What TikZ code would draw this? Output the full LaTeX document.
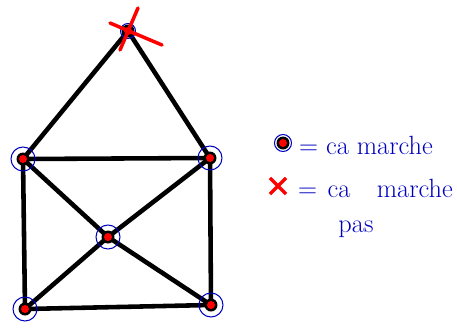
\documentclass[tikz,border=0pt]{standalone}
\usepackage{tikz}
\usetikzlibrary{backgrounds, shapes.misc}

\begin{document}
\begin{tikzpicture}[
x=0.02cm, y=-0.02cm,
edge/.style={line width=2.6pt, line cap=round},
ok/.style={circle, draw=blue!75!black, semithick, minimum size=0.48cm, inner sep=0pt,
  path picture={\fill[black] (path picture bounding box.center) circle (0.13cm);
                \fill[red] (path picture bounding box.center) circle (0.08cm);}},
ko/.style={red, line width=2pt, line cap=round},
legend/.style={text=blue!75!black, font=\fontsize{15}{17}\selectfont, anchor=west}
]
\useasboundingbox (0,0) rectangle (457,329);

% house
\node[ok, minimum size=0.3cm] (top) at (128,31) {};
\node[ok] (lu) at (23,159) {};
\node[ok] (ru) at (210,158) {};
\node[ok] (mid) at (108,237) {};
\node[ok] (lb) at (25,309) {};
\node[ok] (rb) at (211,305) {};

\begin{scope}[on background layer]
\draw[edge] (top.center) -- (lu.center);
\draw[edge] (top.center) -- (ru.center);
\draw[edge] (lu.center) -- (ru.center);
\draw[edge] (lu.center) -- (lb.center);
\draw[edge] (ru.center) -- (rb.center);
\draw[edge] (lb.center) -- (rb.center);
\draw[edge] (lu.center) -- (mid.center);
\draw[edge] (mid.center) -- (rb.center);
\draw[edge] (ru.center) -- (mid.center);
\draw[edge] (mid.center) -- (lb.center);
\end{scope}

% top vertex crossed out
\draw[ko] ([shift={(-18,-8)}]top.center) -- ([shift={(34,14)}]top.center);
\draw[ko] ([shift={(10,-23)}]top.center) -- ([shift={(-8,19)}]top.center);

% key
\node[ok, minimum size=0.34cm] (okkey) at (283,143) {};
\node[legend] (oktext) at (293,145) {= ca marche};
\node[cross out, draw=red, line width=2pt, minimum size=0.25cm, inner sep=0pt] (kokey) at (278,186) {};
\node[legend] (kotext) at (292,188) {=\hspace{0.4em}ca\hspace{1em}marche};
\node[legend, anchor=center] (pas) at (356,229) {pas};
\end{tikzpicture}
\end{document}
